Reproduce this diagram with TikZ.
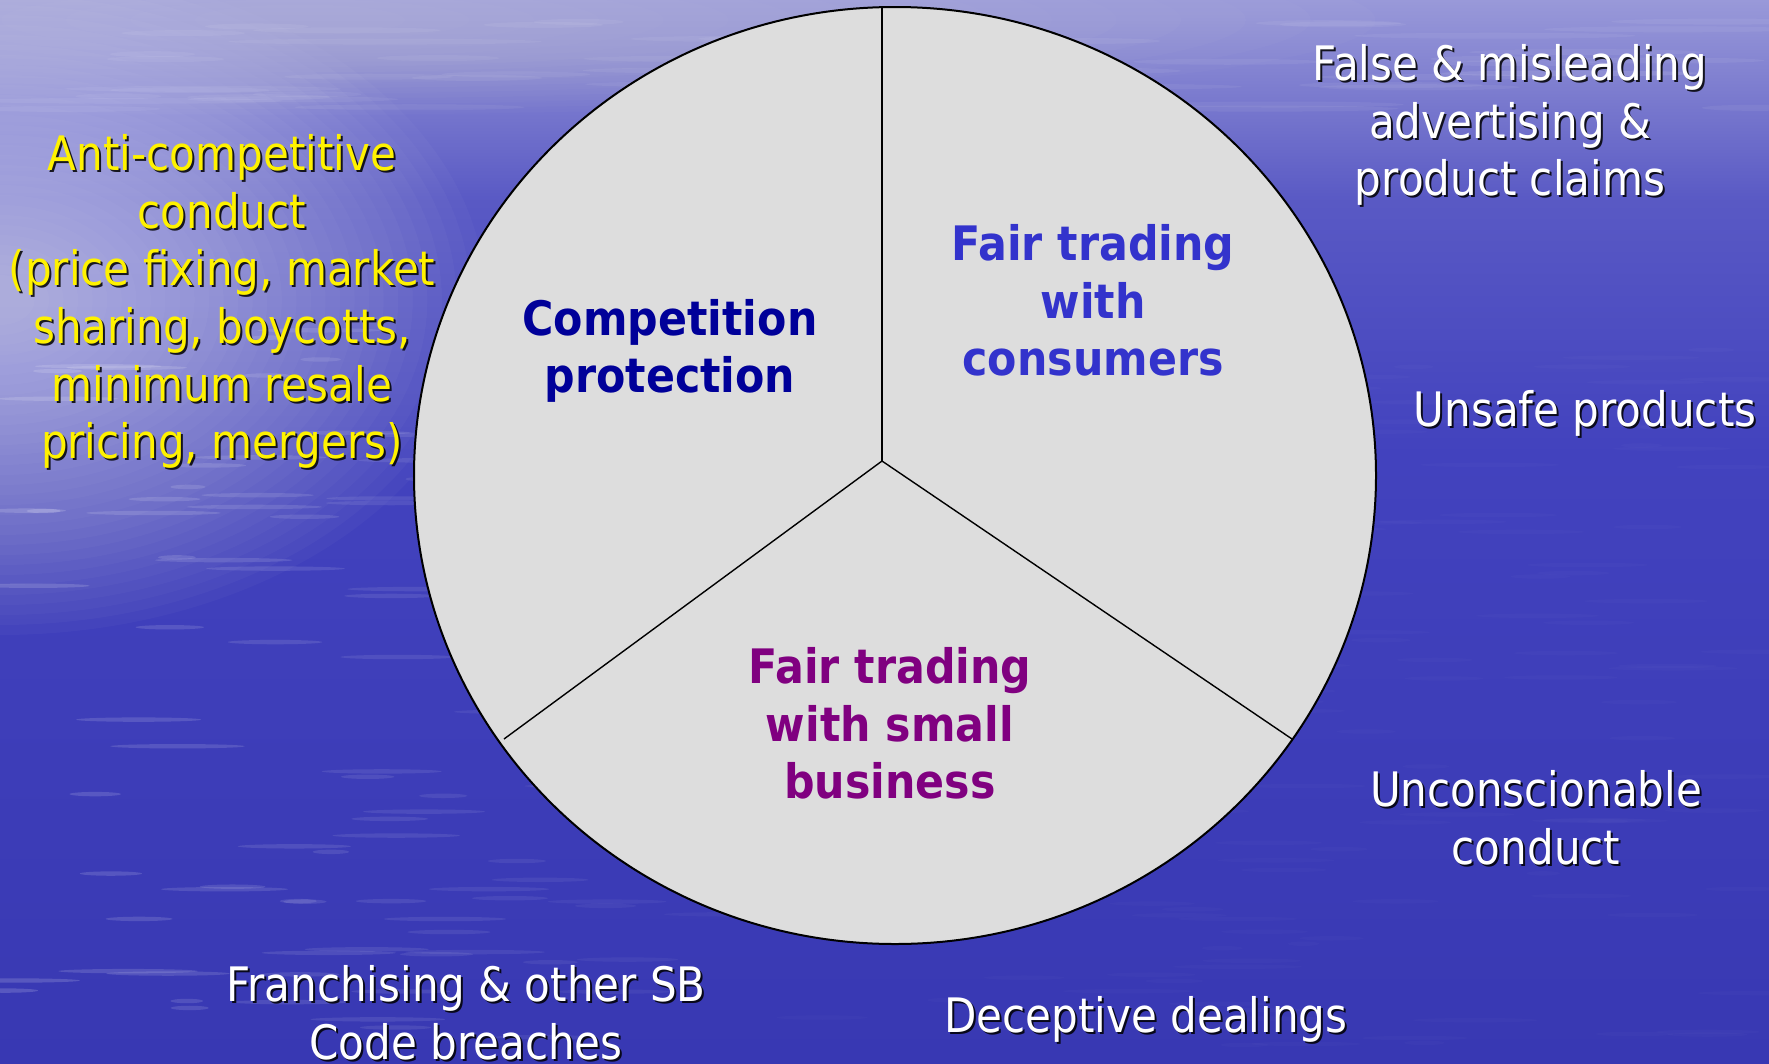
\documentclass[tikz,border=0pt]{standalone}
\usepackage{fontspec}
\setmainfont{DejaVu Sans}[FakeStretch=0.885, BoldFeatures={FakeStretch=0.9}]
\usetikzlibrary{calc,shapes.geometric}

% sea background: light sky reflection at the top fading into deep blue
\pgfdeclareverticalshading{sea}{100bp}{%
  rgb(0bp)=(0.22,0.22,0.70);
  rgb(25bp)=(0.22,0.22,0.70);
  rgb(53.8bp)=(0.26,0.26,0.745);
  rgb(65.6bp)=(0.35,0.35,0.77);
  rgb(71.2bp)=(0.50,0.50,0.815);
  rgb(75bp)=(0.60,0.60,0.85);
  rgb(100bp)=(0.60,0.60,0.85)}

\definecolor{navy}{RGB}{0,0,153}
\definecolor{consumer}{RGB}{51,51,204}
\definecolor{smallbiz}{RGB}{128,0,128}
\definecolor{piefill}{RGB}{221,221,221}

\begin{document}
\begin{tikzpicture}[x=1pt,y=-1pt,
  lbl/.style={align=center, inner sep=0pt,
    font=\fontsize{47.5}{57.6}\selectfont},
  outer/.style={lbl, text=white},
  outeryel/.style={lbl, text=yellow},
  drop/.style={lbl, text=black, opacity=0.85},
  inner/.style={lbl, font=\fontsize{47.5}{57.6}\selectfont\bfseries},
  divider/.style={black, line width=1.4pt}]

\useasboundingbox (0,0) rectangle (1769,1063);

% ---- background -------------------------------------------------------
\fill[shading=sea] (0,0) rectangle (1769,1063);
% bright glare on the left
\foreach \i in {1,...,32}{
  \fill[white, opacity=0.027]
    (0,300) ellipse ({480*(1-\i/33)+20} and {330*(1-\i/33)+15});
}
% glare along the top edge
\foreach \i in {1,...,16}{
  \fill[white, opacity=0.02]
    (300,20) ellipse ({1100*(1-\i/17)+40} and {90*(1-\i/17)+10});
}
% ripples on the water
\pgfmathsetseed{4711}
\foreach \k in {1,...,260}{
  \pgfmathsetmacro\sx{rnd*1769}
  \pgfmathsetmacro\sy{330+rnd*720}
  \pgfmathsetmacro\sw{15+rnd*55}
  \pgfmathsetmacro\op{max(0.02,0.16*(1-\sx/900))}
  \fill[white, opacity=\op] (\sx,\sy) ellipse ({\sw} and 2.2);
}
\foreach \k in {1,...,60}{
  \pgfmathsetmacro\sx{rnd*1769}
  \pgfmathsetmacro\sy{20+rnd*90}
  \pgfmathsetmacro\sw{40+rnd*120}
  \fill[white, opacity=0.06] (\sx,\sy) ellipse ({\sw} and 3);
}

% ---- pie ----------------------------------------------------------------
\coordinate (hub) at (882,461);
\coordinate (top) at (882,7);
\coordinate (lowL) at (504,739);
\coordinate (lowR) at (1292,739);
\node[draw=black, line width=2pt, fill=piefill, ellipse, minimum width=962,
      minimum height=937, inner sep=0pt] (pie) at (895,475.5) {};
\draw[divider] (top) -- (hub);
\draw[divider] (hub) -- (lowL);
\draw[divider] (hub) -- (lowR);

\node[inner, text=navy] (comp) at (670,351) {Competition\\protection};
\node[inner, text=consumer] (cons) at (1093,300.5) {Fair trading\\with\\consumers};
\node[inner, text=smallbiz] (sb) at (890,723.5) {Fair trading\\with small\\business};

% ---- surrounding issues (with drop shadow) -------------------------------
\node[drop] (anti-s) at (224,303.5) {Anti-competitive\\conduct\\(price fixing, market\\sharing, boycotts,\\minimum resale\\pricing, mergers)};
\node[outeryel] (anti) at (222,301.5) {Anti-competitive\\conduct\\(price fixing, market\\sharing, boycotts,\\minimum resale\\pricing, mergers)};

\node[drop] (false-s) at (1512,127) {False \& misleading\\advertising \&\\product claims};
\node[outer] (false) at (1510,125) {False \& misleading\\advertising \&\\product claims};

\node[drop] (unsafe-s) at (1587,415) {Unsafe products};
\node[outer] (unsafe) at (1585,413) {Unsafe products};

\node[drop] (uncon-s) at (1538,820) {Unconscionable\\conduct};
\node[outer] (uncon) at (1536,818) {Unconscionable\\conduct};

\node[drop] (fran-s) at (468,1015) {Franchising \& other SB\\Code breaches};
\node[outer] (fran) at (466,1013) {Franchising \& other SB\\Code breaches};

\node[drop] (dec-s) at (1148,1021) {Deceptive dealings};
\node[outer] (dec) at (1146,1019) {Deceptive dealings};

\end{tikzpicture}
\end{document}
